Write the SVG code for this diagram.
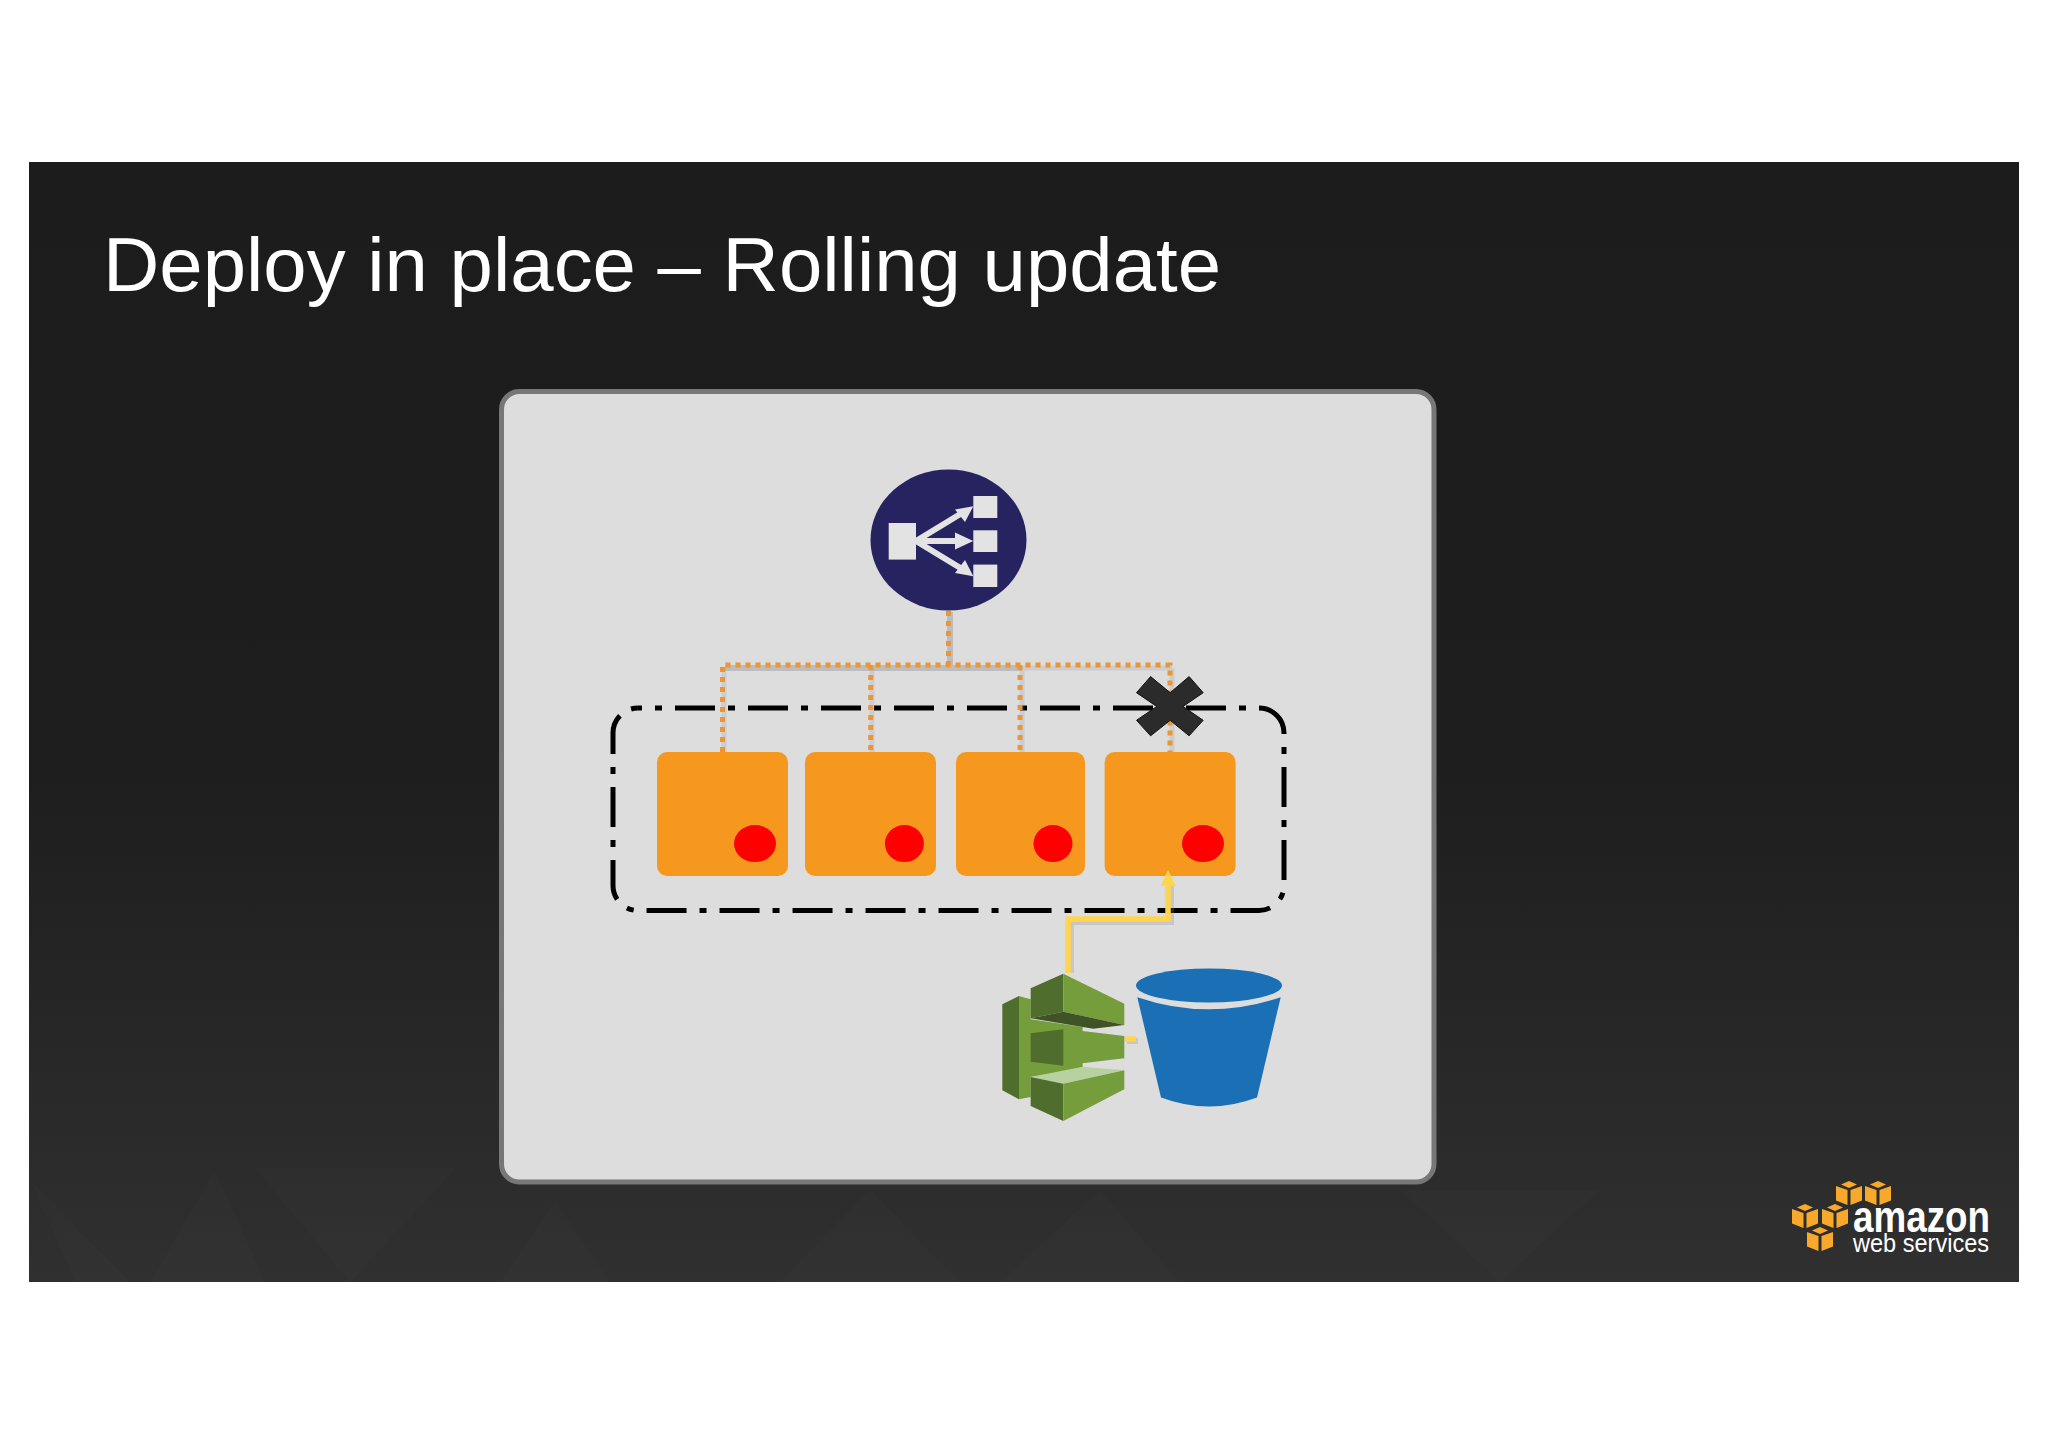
<svg xmlns="http://www.w3.org/2000/svg" width="2048" height="1447" viewBox="0 0 2048 1447">
<style>
.face{fill:#f8a92b}
.inst{fill:#f7981e}
.dot{fill:#fe0000}
.bound{fill:none;stroke:#000;stroke-width:5;stroke-dasharray:40 13 7 13}
.elb{fill:none;stroke:#ea9638;stroke-width:5;stroke-dasharray:5 5}
.elbs{fill:none;stroke:#8f8f8f;stroke-opacity:.4;stroke-width:6}
.elbv{fill:none;stroke:#8f8f8f;stroke-opacity:.2;stroke-width:5}
.yel{fill:none;stroke:#ffd44f;stroke-width:5.5}
.yels{fill:none;stroke:#8a8585;stroke-opacity:.25;stroke-width:6}
.ico{fill:#e3e3e3}
.icol{stroke:#e3e3e3;stroke-width:6;fill:none}
.tri{fill:#fff;fill-opacity:.012}
</style>
<defs>
<linearGradient id="bg" x1="0" y1="0" x2="0" y2="1">
<stop offset="0" stop-color="#1c1c1c"/><stop offset=".55" stop-color="#1e1e1e"/><stop offset=".78" stop-color="#272727"/><stop offset="1" stop-color="#303030"/>
</linearGradient>
<g id="cube">
<polygon class="face" points="5,4.5 13,1 21,4.5 13,8"/>
<polygon class="face" points="0,6 11.5,10 11.5,25 0,20.5"/>
<polygon class="face" points="14.5,10 26,6 26,20.5 14.5,25"/>
</g>
</defs>
<rect width="2048" height="1447" fill="#fff"/>
<g id="slide">
<rect x="29" y="162" width="1990" height="1120" fill="url(#bg)"/>
<polygon class="tri" points="255,1168 456,1168 350,1282"/>
<polygon class="tri" points="30,1180 130,1282 75,1282"/>
<polygon class="tri" points="150,1282 215,1170 265,1282"/>
<polygon class="tri" points="500,1282 555,1200 610,1282"/>
<polygon class="tri" points="780,1282 870,1190 960,1282"/>
<polygon class="tri" points="1000,1282 1100,1190 1180,1282"/>
<polygon class="tri" points="1400,1190 1600,1190 1500,1282"/>
</g>
<text id="title" x="103" y="291" font-family="'Liberation Sans',Arial,sans-serif" font-size="76" fill="#fff" textLength="1118" lengthAdjust="spacingAndGlyphs">Deploy in place – Rolling update</text>
<rect id="panel" x="501.5" y="391.5" width="932.5" height="790.5" rx="18" fill="#dddddd" stroke="#777" stroke-width="5"/>
<path id="autoscaling-group" class="bound" stroke-dashoffset="36" d="M638,708H1259A25,25 0 0 1 1284,733V885.500A25,25 0 0 1 1259,910.500H638A25,25 0 0 1 613,885.500V733A25,25 0 0 1 638,708Z"/>
<g id="connectors">
<path class="elbs" d="M950,612V669M725,668H1022"/>
<path class="elbv" d="M1022,668H1172M724,668V752M872,668V752M1022,668V752M1172,668V752"/>
<path class="elb" d="M948.5,611V665"/>
<path class="elb" d="M722.5,752V665H1170V752"/>
<path class="elb" d="M870.7,665V752"/>
<path class="elb" d="M1020,665V752"/>
<path class="yels" d="M1071,973V922H1171V886"/>
<path class="yels" d="M1127,1041H1138"/>
<path class="yel" d="M1068,973V919H1168V884"/>
<path class="yel" d="M1125,1039H1136"/>
</g>
<g id="load-balancer">
<ellipse cx="948.5" cy="540" rx="78" ry="70.5" fill="#272361"/>
<rect class="ico" x="888.7" y="523" width="27.3" height="36.6"/>
<rect class="ico" x="973.3" y="496" width="24" height="22"/>
<rect class="ico" x="973.3" y="530.300" width="24" height="21.7"/>
<rect class="ico" x="973.3" y="564.6" width="24" height="22.4"/>
<path class="icol" d="M916,541L962,513M916,541H962M916,541L962,569"/>
<polygon class="ico" points="973.3,506.3 955,509.6 965,522"/>
<polygon class="ico" points="973.3,541 955,532.6 955,549.400"/>
<polygon class="ico" points="973.3,576.3 955,573 965,560"/>
</g>
<g id="instance-1"><rect class="inst" x="657" y="752" width="131" height="124" rx="10"/><ellipse class="dot" cx="755" cy="843.6" rx="21" ry="18.5"/></g>
<g id="instance-2"><rect class="inst" x="805" y="752" width="131" height="124" rx="10"/><ellipse class="dot" cx="904.4" cy="843.6" rx="19.5" ry="18.5"/></g>
<g id="instance-3"><rect class="inst" x="956" y="752" width="129" height="124" rx="10"/><ellipse class="dot" cx="1053" cy="843.6" rx="19.5" ry="18.5"/></g>
<g id="instance-4"><rect class="inst" x="1104.6" y="752" width="131" height="124" rx="10"/><ellipse class="dot" cx="1203" cy="843.6" rx="21" ry="18.5"/></g>
<polygon id="yellow-arrowhead" points="1168,870 1176,886 1160.500,886" fill="#ffd44f"/>
<polygon id="failed-mark" transform="translate(0 1)" points="1150.6,675.6 1170.2,691.7 1189.1,675.6 1203.2,691.7 1183,705.5 1203.2,719.3 1189.1,734.8 1170.2,719.3 1150.6,734.8 1136.5,719.3 1156.7,705.5 1136.5,691.7" fill="#2b2b2b" stroke="#111" stroke-width="1"/>
<g id="sqs" transform="translate(960 861) scale(.3333)">
<polygon fill="#4f6d2c" points="127,430 177,405 177,715 127,688"/>
<polygon fill="#769d3c" points="177,405 212,415 212,475 368,498 368,510 493,525 493,592 368,607 368,622 212,648 212,708 177,715"/>
<polygon fill="#4f6d2c" points="212,382 310,338 310,452 212,472"/>
<polygon fill="#769d3c" points="310,338 493,428 493,492 310,452"/>
<polygon fill="#3f5326" points="212,472 310,452 493,492 400,503"/>
<polygon fill="#4f6d2c" points="212,517 310,505 310,614 212,602"/>
<polygon fill="#b7d1a0" points="212,648 368,617 493,628 310,668"/>
<polygon fill="#4f6d2c" points="212,648 310,668 310,780 212,735"/>
<polygon fill="#769d3c" points="310,668 493,628 493,685 310,780"/>
</g>
<g id="s3" transform="translate(0 .5)">
<path fill="#1a6fb5" d="M1137.3,996.7Q1209,1021 1280.7,996.7L1257,1097Q1209,1115 1161,1097Z"/>
<ellipse cx="1209" cy="985" rx="73" ry="17" fill="#1a6fb5"/>
</g>
<g id="aws-logo">
<use href="#cube" x="1836" y="1180"/>
<use href="#cube" x="1865" y="1180"/>
<use href="#cube" x="1792" y="1203"/>
<use href="#cube" x="1822" y="1203"/>
<use href="#cube" x="1807" y="1226"/>
<text x="1853" y="1232" font-family="'Liberation Sans',Arial,sans-serif" font-weight="700" font-size="44" fill="#fff" textLength="137" lengthAdjust="spacingAndGlyphs">amazon</text>
<text x="1853" y="1252" font-family="'Liberation Sans',Arial,sans-serif" font-size="25" fill="#fff" textLength="136" lengthAdjust="spacingAndGlyphs">web services</text>
</g>
</svg>
